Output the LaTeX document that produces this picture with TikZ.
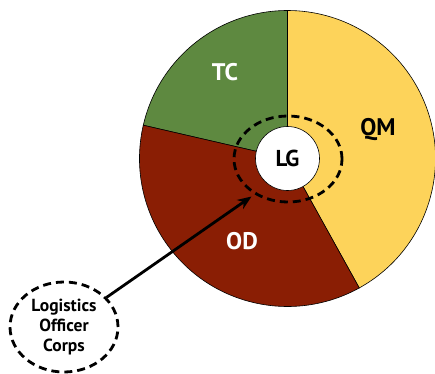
\documentclass[tikz,border=0pt]{standalone}
\usepackage{fontspec}
\setsansfont{PT Sans}
\usetikzlibrary{shapes.geometric,arrows.meta}
\definecolor{tcgreen}{RGB}{94,137,64}
\definecolor{qmyellow}{RGB}{253,211,90}
\definecolor{odred}{RGB}{138,30,4}
\tikzset{
	wedge/.style={draw=black,line width=0.6pt},
	ring/.style={draw=black,line width=2.8pt,dash pattern=on 8pt off 5pt},
	seclabel/.style={font=\sffamily\bfseries\fontsize{24}{28}\selectfont}
}
\begin{document}
\begin{tikzpicture}[x=1pt,y=1pt]
		\useasboundingbox (0,0) rectangle (435,373);
		\coordinate (c) at (287.5,214.5);
		\fill[wedge,fill=qmyellow] (c) -- ++(-61:148) arc[radius=148,start angle=-61,end angle=90] -- cycle;
		\fill[wedge,fill=tcgreen] (c) -- ++(90:148) arc[radius=148,start angle=90,end angle=167] -- cycle;
		\fill[wedge,fill=odred] (c) -- ++(167:148) arc[radius=148,start angle=167,end angle=299] -- cycle;
		\draw[ring] (288,214) ellipse[x radius=54,y radius=43];
		\node[circle,fill=white,draw=black,line width=0.6pt,minimum size=64pt,inner sep=0pt,font=\sffamily\bfseries\fontsize{23}{26}\selectfont] (lg) at (c) {LG};
		\node[seclabel,text=white] (tc) at (225,301) {TC};
		\node[seclabel,text=black] (qm) at (378,243) {QM};
		\node[seclabel,text=white] (od) at (242,132) {OD};
		\node[ellipse,ring,minimum width=108pt,minimum height=90pt,inner sep=0pt,align=center,
			font=\sffamily\bfseries\fontsize{17.5}{20}\selectfont] (corps) at (64,46) {Logistics\\Officer\\Corps};
		\coordinate (tip) at (251.5,176.5);
		\draw[line width=2.8pt,-{Stealth[length=14pt,width=11pt]}] (corps) -- (tip);
	\end{tikzpicture}
\end{document}
